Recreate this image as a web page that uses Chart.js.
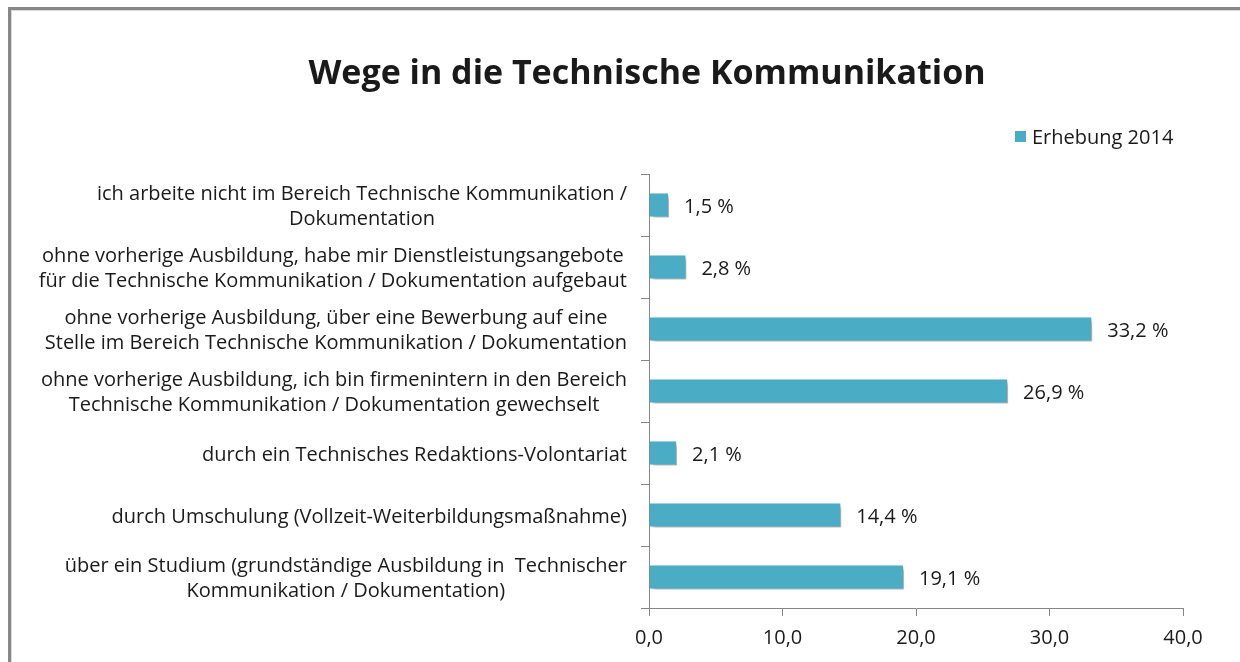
<!DOCTYPE html>
<html lang="de">
<head>
<meta charset="UTF-8">
<title>Wege in die Technische Kommunikation</title>
<style>
    html, body { margin: 0; padding: 0; background: #fff; overflow: hidden; }
    .frame {
        position: absolute; left: 8px; top: 7px;
        width: 1300px; height: 700px;
        border-left: 3px solid #878787; border-top: 3px solid #878787;
        box-shadow: inset 1px 1px 0 #d9d9d9;
    }
    .wrap { position: absolute; left: 0; top: 0; width: 1240px; height: 662px; }
</style>
</head>
<body>
<div class="frame"></div>
<div class="wrap"><canvas id="chart"></canvas></div>

<script src="https://cdn.jsdelivr.net/npm/chart.js@4.4.0/dist/chart.umd.min.js"></script>
<script>
const chartTitle = 'Wege in die Technische Kommunikation';
const seriesName = 'Erhebung 2014';
const categories = [
    ['ich arbeite nicht im Bereich Technische Kommunikation /', 'Dokumentation'],
    ['ohne vorherige Ausbildung, habe mir Dienstleistungsangebote', 'für die Technische Kommunikation / Dokumentation aufgebaut'],
    ['ohne vorherige Ausbildung, über eine Bewerbung auf eine', 'Stelle im Bereich Technische Kommunikation / Dokumentation'],
    ['ohne vorherige Ausbildung, ich bin firmenintern in den Bereich', 'Technische Kommunikation / Dokumentation gewechselt'],
    ['durch ein Technisches Redaktions-Volontariat'],
    ['durch Umschulung (Vollzeit-Weiterbildungsmaßnahme)'],
    ['über ein Studium (grundständige Ausbildung in  Technischer', 'Kommunikation / Dokumentation)']
];
const values = [1.5, 2.8, 33.2, 26.9, 2.1, 14.4, 19.1];
const xTicks = [0, 10, 20, 30, 40];

const barColor = '#4bacc6';
const textColor = '#1a1a1a';
const fontFamily = '"Open Sans", sans-serif';
const fmt = (v, d) => v.toFixed(d).replace('.', ',');

// Titel, Legende, Kategorien und Werte selbst zeichnen
const decorPlugin = {
    id: 'decor',
    beforeDatasetsDraw(chart) {
        const ctx = chart.ctx;
        ctx.save();
        ctx.shadowColor = 'rgba(0,0,0,0.35)';
        ctx.shadowBlur = 4;
        ctx.shadowOffsetX = 3;
        ctx.shadowOffsetY = 3;
    },
    afterDatasetsDraw(chart) {
        chart.ctx.restore();
    },
    afterDraw(chart) {
        const ctx = chart.ctx;
        const yScale = chart.scales.y;
        ctx.save();
        ctx.fillStyle = textColor;

        // Titel
        ctx.font = 'bold 34px ' + fontFamily;
        ctx.textAlign = 'center';
        ctx.textBaseline = 'middle';
        ctx.fillText(chartTitle, 647, 74);

        // Legende
        ctx.font = '20px ' + fontFamily;
        ctx.textAlign = 'left';
        ctx.fillStyle = barColor;
        ctx.fillRect(1015, 131, 11, 11);
        ctx.fillStyle = textColor;
        ctx.fillText(chart.data.datasets[0].label, 1032, 138);

        // Kategorien: Block rechtsbündig, Zeilen zentriert
        ctx.textAlign = 'center';
        const lineH = 25;
        const right = chart.chartArea.left - 22;
        categories.forEach((lines, i) => {
            const y = yScale.getPixelForTick(i) + 2;
            const w = Math.max(...lines.map(l => ctx.measureText(l).width));
            const cx = right - w / 2;
            const y0 = y - (lines.length - 1) * lineH / 2;
            lines.forEach((l, j) => ctx.fillText(l, cx, y0 + j * lineH));
        });

        // Werte
        ctx.textAlign = 'left';
        const meta = chart.getDatasetMeta(0);
        meta.data.forEach((bar, i) => {
            ctx.fillText(fmt(values[i], 1) + ' %', bar.x + 15, bar.y + 2);
        });
        ctx.restore();
    }
};

new Chart(document.getElementById('chart'), {
    type: 'bar',
    data: {
        labels: categories,
        datasets: [{
            label: seriesName,
            data: values,
            backgroundColor: barColor,
            borderColor: 'rgba(255,255,255,0.85)',
            borderWidth: 1,
            categoryPercentage: 1,
            barPercentage: 0.4
        }]
    },
    options: {
        indexAxis: 'y',
        responsive: true,
        maintainAspectRatio: false,
        animation: false,
        layout: { padding: { top: 174, right: 57, bottom: 2, left: 0 } },
        plugins: {
            legend: { display: false },
            title: { display: false },
            tooltip: { enabled: false }
        },
        scales: {
            x: {
                min: 0,
                max: 40,
                afterBuildTicks(scale) { scale.ticks = xTicks.map(v => ({ value: v })); },
                ticks: {
                    color: textColor,
                    font: { family: fontFamily, size: 20 },
                    padding: 10,
                    callback: v => fmt(v, 1)
                },
                grid: { drawOnChartArea: false, tickLength: 8, color: '#868686' },
                border: { color: '#868686' }
            },
            y: {
                afterFit(scale) { scale.width = 649; },
                ticks: { display: false },
                grid: { drawOnChartArea: false, tickLength: 8, color: '#868686', offset: true },
                border: { color: '#868686' }
            }
        }
    },
    plugins: [decorPlugin]
});
</script>
</body>
</html>
